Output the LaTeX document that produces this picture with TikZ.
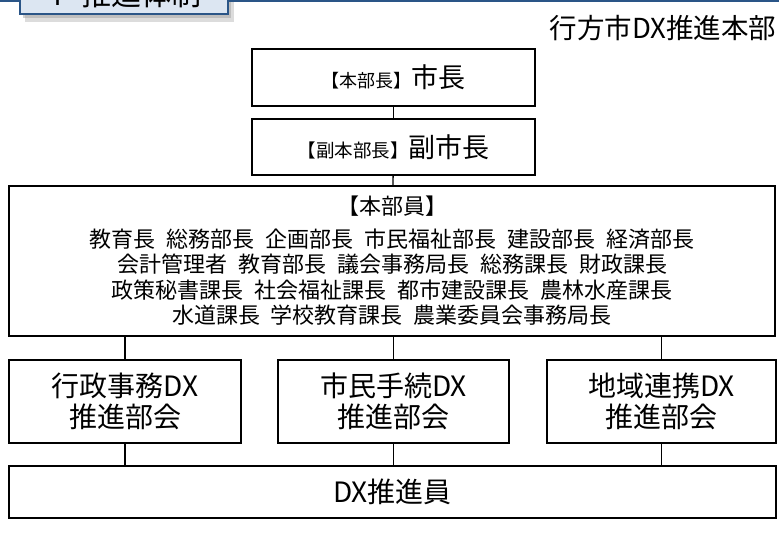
\documentclass[tikz,border=0pt]{standalone}
\usepackage{fontspec}
\setmainfont{Noto Sans CJK JP}
\usetikzlibrary{positioning}
\definecolor{TabBlue}{HTML}{2A5587}
\definecolor{TabFill}{HTML}{DCE6F2}
\definecolor{TabShade}{HTML}{9A9A9A}
\newcommand{\wsp}{\hspace{0.5em}}

\begin{document}
\begin{tikzpicture}[x=1pt,y=-1pt,line width=1.3pt,
  orgbox/.style={draw=black,fill=white,align=center,inner sep=0pt},
  bigtxt/.style={font=\fontsize{28}{31}\selectfont}]
  \useasboundingbox (0,0) rectangle (779,553);
  \clip (0,0) rectangle (779,553);
  % heading tab
  \fill[TabShade,opacity=0.35] (25,-20) rectangle (234,22);
  \fill[TabShade,opacity=0.45] (23,-20) rectangle (231,18);
  \draw[TabBlue,line width=1.6pt] (0,1) -- (779,1);
  \node[draw=TabBlue,fill=TabFill,line width=1.6pt,minimum width=208,minimum height=40,
    inner sep=0pt,font=\fontsize{30}{34}\selectfont] (tab) at (124,-6) {4\hspace{0.6em}推進体制};
  \node[font=\fontsize{27.5}{31}\selectfont,anchor=east,inner sep=0pt] (title) at (777,28) {行方市DX推進本部};
  % boxes
  \node[orgbox,minimum width=283,minimum height=57] (mayor) at (393.5,77.5)
    {{\fontsize{18}{22}\selectfont 【本部長】}{\fontsize{27}{30}\selectfont 市長}};
  \node[orgbox,minimum width=283,minimum height=56] (vice) at (393.5,147)
    {{\fontsize{18.5}{22}\selectfont 【副本部長】}{\fontsize{27}{30}\selectfont 副市長}};
  \node[orgbox,minimum width=766,minimum height=150,font=\fontsize{22}{25.5}\selectfont] (members) at (392,261)
    {【本部員】\\[7pt]
     教育長\wsp 総務部長\wsp 企画部長\wsp 市民福祉部長\wsp 建設部長\wsp 経済部長\\
     会計管理者\wsp 教育部長\wsp 議会事務局長\wsp 総務課長\wsp 財政課長\\
     政策秘書課長\wsp 社会福祉課長\wsp 都市建設課長\wsp 農林水産課長\\
     水道課長\wsp 学校教育課長\wsp 農業委員会事務局長};
  \node[orgbox,bigtxt,minimum width=232,minimum height=83] (admin) at (125,401.5)
    {行政事務DX\\推進部会};
  \node[orgbox,bigtxt,minimum width=231,minimum height=83] (citizen) at (393.5,401.5)
    {市民手続DX\\推進部会};
  \node[orgbox,bigtxt,minimum width=229,minimum height=83] (region) at (661.5,401.5)
    {地域連携DX\\推進部会};
  \node[orgbox,bigtxt,minimum width=767,minimum height=52] (staff) at (392.5,492)
    {DX推進員};
  % connectors
  \draw (mayor) -- (vice);
  \draw (vice) -- (members);
  \foreach \unit in {admin,citizen,region}{
    \draw (\unit.north) -- (\unit.north |- members.south);
    \draw (\unit.south) -- (\unit.south |- staff.north);
  }
\end{tikzpicture}
\end{document}
